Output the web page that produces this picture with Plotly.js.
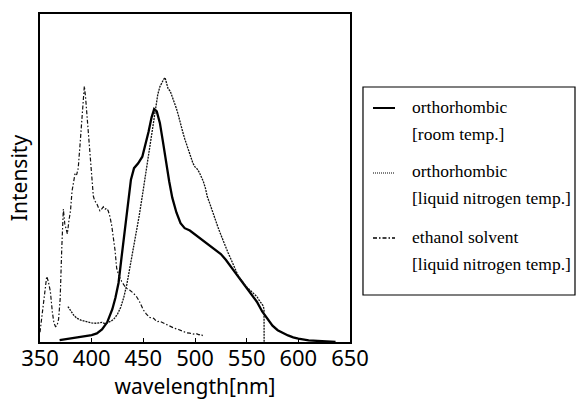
<!DOCTYPE html>
<html>
<head>
<meta charset="utf-8">
<script src="https://cdn.plot.ly/plotly-3.0.1.min.js"></script>
<style>html,body{margin:0;padding:0;background:#fff;}#chart{width:577px;height:400px;}</style>
</head>
<body>
<div id="chart"></div>
<script>
// Series 1: orthorhombic [room temp.] (solid)
const roomX = [369, 380, 390, 400, 405, 410, 415, 420, 423, 426, 429, 432, 435, 438, 441, 445, 449, 452, 455, 458, 460.5, 463, 466, 469, 472, 475, 478, 482, 486, 490, 495, 500, 505, 510, 515, 520, 525, 530, 535, 540, 545, 550, 555, 560, 565, 570, 575, 580, 585, 590, 595, 600, 610, 620, 630, 636];
const roomY = [0.006, 0.011, 0.016, 0.021, 0.026, 0.038, 0.06, 0.1, 0.135, 0.18, 0.26, 0.34, 0.43, 0.495, 0.53, 0.545, 0.565, 0.6, 0.64, 0.685, 0.71, 0.703, 0.668, 0.61, 0.545, 0.49, 0.44, 0.395, 0.362, 0.347, 0.34, 0.328, 0.315, 0.302, 0.292, 0.28, 0.268, 0.25, 0.23, 0.207, 0.186, 0.165, 0.144, 0.122, 0.093, 0.07, 0.05, 0.036, 0.027, 0.02, 0.014, 0.01, 0.005, 0.003, 0.001, 0.0];

// Series 2: orthorhombic [liquid nitrogen temp.] (dotted)
const ln2X = [377, 378.5, 380, 383, 386, 390, 395, 400, 405, 410, 413, 416, 419, 422, 425, 428, 431, 434, 437, 440, 443, 446, 449, 452, 455, 458, 460, 462, 464, 466, 468, 469.5, 471, 472.5, 474, 476, 478, 480, 482, 484, 486, 488, 490, 492, 494, 496, 498, 500, 502, 504, 506, 508, 510, 512, 514, 516, 518, 520, 522, 524, 526, 528, 530, 532, 534, 536, 538, 540, 542, 544, 546, 548, 550, 552, 554, 556, 558, 560, 562, 564, 566, 566.8, 566.9];
const ln2Y = [0.108, 0.1, 0.092, 0.08, 0.072, 0.066, 0.062, 0.058, 0.057, 0.06, 0.056, 0.061, 0.064, 0.072, 0.085, 0.105, 0.135, 0.175, 0.225, 0.28, 0.33, 0.385, 0.445, 0.505, 0.565, 0.625, 0.67, 0.715, 0.755, 0.778, 0.792, 0.8, 0.806, 0.79, 0.772, 0.765, 0.748, 0.73, 0.712, 0.69, 0.662, 0.642, 0.62, 0.6, 0.578, 0.56, 0.545, 0.534, 0.528, 0.518, 0.506, 0.49, 0.47, 0.442, 0.425, 0.405, 0.388, 0.37, 0.352, 0.335, 0.318, 0.3, 0.284, 0.272, 0.258, 0.243, 0.228, 0.213, 0.2, 0.192, 0.182, 0.175, 0.168, 0.162, 0.156, 0.15, 0.146, 0.138, 0.128, 0.118, 0.11, 0.1, 0.0];

// Series 3: ethanol solvent [liquid nitrogen temp.] (dash-dot)
const ethX = [350, 351.5, 353, 355, 356.5, 358, 360, 362, 363.5, 365, 366.5, 368, 369.5, 371, 372.6, 374, 375.5, 376.5, 378, 379.5, 381, 382.5, 384, 385.5, 387, 388.7, 390, 391, 392.9, 394, 395.2, 396.8, 398.4, 400, 401.6, 403, 404.8, 406.5, 408, 409.6, 411.3, 413, 414.5, 416, 417.7, 419.4, 421, 422.6, 424.2, 426, 429, 432, 435, 437, 440, 443.5, 446, 448, 450, 453, 456, 460, 463, 466, 469, 472, 476, 480, 484, 488, 492, 495, 498, 501, 504, 506, 507.5];
const ethY = [0.03, 0.07, 0.12, 0.17, 0.2, 0.185, 0.155, 0.09, 0.058, 0.047, 0.05, 0.07, 0.13, 0.28, 0.405, 0.36, 0.34, 0.33, 0.37, 0.4, 0.46, 0.49, 0.515, 0.51, 0.53, 0.6, 0.66, 0.72, 0.78, 0.75, 0.705, 0.63, 0.565, 0.5, 0.445, 0.43, 0.423, 0.41, 0.4, 0.405, 0.412, 0.405, 0.408, 0.4, 0.382, 0.355, 0.32, 0.28, 0.225, 0.205, 0.185, 0.17, 0.16, 0.158, 0.15, 0.138, 0.125, 0.11, 0.098, 0.085, 0.075, 0.072, 0.062, 0.063, 0.058, 0.055, 0.048, 0.042, 0.038, 0.033, 0.028, 0.027, 0.024, 0.026, 0.022, 0.024, 0.018];

const tickVals = [350, 400, 450, 500, 550, 600, 650];
const legendLines = ["orthorhombic", "[room temp.]", "orthorhombic", "[liquid nitrogen temp.]", "ethanol solvent", "[liquid nitrogen temp.]"];

const dotDash = '2px,1px';
const dashDot = '4px,2px,1.5px,2px';

const traces = [
  {x: roomX, y: roomY, type: 'scatter', mode: 'lines', line: {color: '#000', width: 2.3}, showlegend: false, hoverinfo: 'skip'},
  {x: ln2X, y: ln2Y, type: 'scatter', mode: 'lines', line: {color: '#111', width: 1.3, dash: dotDash}, showlegend: false, hoverinfo: 'skip'},
  {x: ethX, y: ethY, type: 'scatter', mode: 'lines', line: {color: '#111', width: 1.2, dash: dashDot}, showlegend: false, hoverinfo: 'skip'}
];

// legend geometry (paper coords)
const rowY = [0.7165, 0.6341, 0.5213, 0.439, 0.3201, 0.2378];
const sampleY = [0.7134, 0.5152, 0.3171];
const sampleDash = ['solid', '1px,1px', dashDot];
const sampleW = [2, 1.2, 1.5];

const annotations = legendLines.map((t, i) => ({
  xref: 'paper', yref: 'paper', x: 1.1935, y: rowY[i], xanchor: 'left', yanchor: 'middle',
  text: t, showarrow: false, font: {family: 'Liberation Serif, Times New Roman, serif', size: 17.5, color: '#000'}
}));

const shapes = [
  {type: 'rect', xref: 'paper', yref: 'paper', x0: 1.0419, x1: 1.7258, y0: 0.1433, y1: 0.7774, line: {color: '#000', width: 1.2}, fillcolor: 'rgba(0,0,0,0)'}
].concat(sampleY.map((y, i) => ({
  type: 'line', xref: 'paper', yref: 'paper', x0: 1.0742, x1: 1.1452, y0: y, y1: y,
  line: {color: '#000', width: sampleW[i], dash: sampleDash[i]}
})));

const layout = {
  width: 577, height: 400,
  margin: {l: 40, r: 227, t: 14, b: 58, pad: 0},
  paper_bgcolor: '#fff', plot_bgcolor: '#fff',
  showlegend: false,
  font: {family: 'Noto Sans, DejaVu Sans, sans-serif', color: '#000'},
  xaxis: {
    range: [350, 650], tickvals: tickVals, ticktext: tickVals.map(String),
    ticks: 'inside', ticklen: 4, tickwidth: 1, tickcolor: '#000',
    ticklabelstandoff: -4,
    showline: true, linecolor: '#000', linewidth: 2, mirror: true,
    showgrid: false, zeroline: false,
    tickfont: {size: 22, family: 'Noto Sans, DejaVu Sans, sans-serif'},
    title: {text: 'wavelength[nm]', font: {size: 21, family: 'Noto Sans, DejaVu Sans, sans-serif'}, standoff: 9}
  },
  yaxis: {
    range: [0, 1], showticklabels: false, ticks: '',
    showline: true, linecolor: '#000', linewidth: 2, mirror: true,
    showgrid: false, zeroline: false,
    title: {text: 'Intensity', font: {size: 21, family: 'Noto Sans, DejaVu Sans, sans-serif'}, standoff: 5}
  },
  annotations: annotations,
  shapes: shapes
};

Plotly.newPlot('chart', traces, layout, {staticPlot: true, displayModeBar: false});
</script>
</body>
</html>
